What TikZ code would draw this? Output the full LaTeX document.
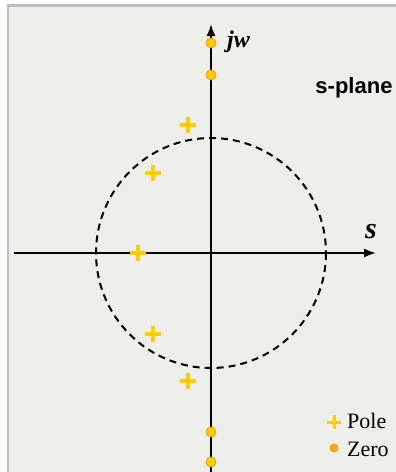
\documentclass[tikz,border=0pt]{standalone}
\usepackage{fontspec}
\setmainfont{Liberation Serif}
\newfontfamily\planefont{Liberation Sans}
\usetikzlibrary{arrows.meta, shapes.misc}
\definecolor{bgfill}{RGB}{238,238,235}
\definecolor{edgegray}{RGB}{190,190,190}
\definecolor{polegold}{RGB}{255,204,0}
\definecolor{zeroedge}{RGB}{232,160,0}
\definecolor{legendzero}{RGB}{255,170,0}

\begin{document}
\begin{tikzpicture}[x=1pt, y=-1pt, >={Latex[length=12pt,width=9pt]},
  axis/.style={line width=2pt, ->},
  rim/.style={line width=2pt, dash pattern=on 7pt off 5pt},
  polemark/.style={cross out, draw=polegold, line width=3.2pt, rotate=45,
                   minimum size=8.5pt, inner sep=0pt},
  zeromark/.style={circle, fill=polegold, draw=zeroedge, line width=0.8pt,
                   minimum size=10pt, inner sep=0pt},
  lbl/.style={inner sep=0pt, font=\fontsize{22}{24}\selectfont}]
% frame
\useasboundingbox (0,0) rectangle (396,472);
\fill[white] (0,0) rectangle (396,472);
\fill[bgfill] (7,5) rectangle (396,472);
\fill[edgegray] (7,4) rectangle (396,6.5);
\fill[edgegray] (7,4) rectangle (9,472);

% axes
\coordinate (origin) at (211,253);
\coordinate (xtail) at (14,253);
\coordinate (xhead) at (376,253);
\coordinate (ytail) at (211,472);
\coordinate (yhead) at (211,24);
\draw[rim] (origin) circle[radius=115];
\draw[axis] (xtail) -- (xhead);
\draw[axis] (ytail) -- (yhead);

% poles
\node[polemark] (p1) at (188,125) {};
\node[polemark] (p2) at (153,173) {};
\node[polemark] (p3) at (138,253) {};
\node[polemark] (p4) at (153,334) {};
\node[polemark] (p5) at (188,381) {};

% zeros
\node[zeromark] (z1) at (211,43) {};
\node[zeromark] (z2) at (211,75) {};
\node[zeromark] (z3) at (211,432) {};
\node[zeromark] (z4) at (211,462) {};

% labels
\node[lbl, anchor=west, font=\fontsize{24}{26}\selectfont\bfseries\itshape] (jw) at (227,42) {jw};
\node[lbl, font=\fontsize{22}{24}\planefont\bfseries] (splane) at (354,88) {s-plane};
\node[lbl, font=\fontsize{30}{32}\selectfont\bfseries\itshape] (sname) at (371,232) {s};

% legend
\node[polemark, line width=3pt, minimum size=7pt] (polekey) at (334,422) {};
\node[zeromark, fill=legendzero, minimum size=8pt] (zerokey) at (334,448) {};
\node[lbl, anchor=west] (poletext) at (347,421) {Pole};
\node[lbl, anchor=west] (zerotext) at (347,449) {Zero};
\end{tikzpicture}
\end{document}
